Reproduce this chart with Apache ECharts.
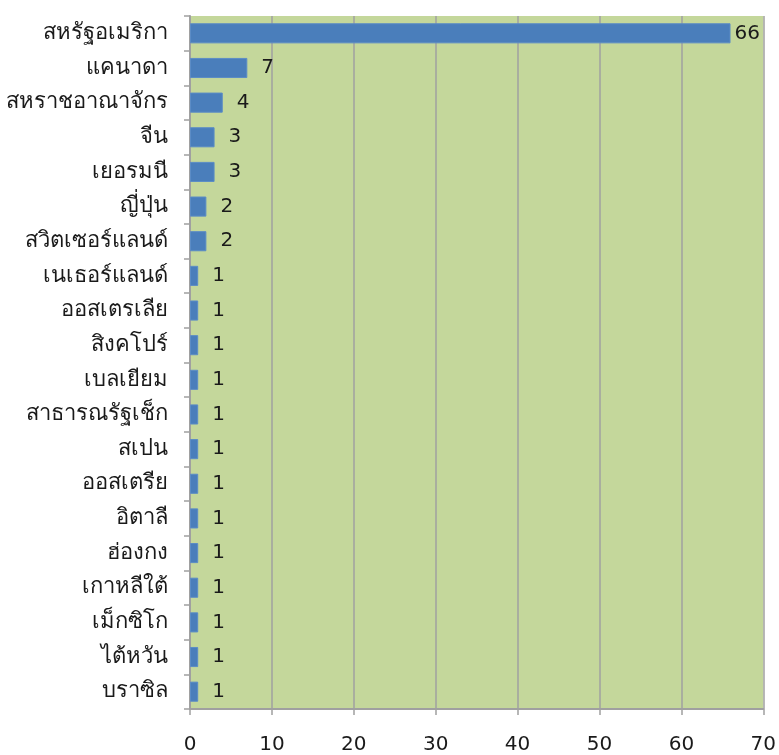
<!DOCTYPE html>
<html>
<head>
<meta charset="utf-8">
<script src="https://cdn.jsdelivr.net/npm/echarts@6/dist/echarts.min.js"></script>
<style>
  html, body { margin: 0; padding: 0; background: #fff; }
  #chart { width: 779px; height: 755px; }
</style>
</head>
<body>
<div id="chart"></div>
<script>
// ประเทศ (top to bottom as in the picture)
var countries = [
  "สหรัฐอเมริกา", "แคนาดา", "สหราชอาณาจักร", "จีน", "เยอรมนี", "ญี่ปุ่น",
  "สวิตเซอร์แลนด์", "เนเธอร์แลนด์", "ออสเตรเลีย", "สิงคโปร์", "เบลเยียม",
  "สาธารณรัฐเช็ก", "สเปน", "ออสเตรีย", "อิตาลี", "ฮ่องกง", "เกาหลีใต้",
  "เม็กซิโก", "ไต้หวัน", "บราซิล"
];
var counts = [66, 7, 4, 3, 3, 2, 2, 1, 1, 1, 1, 1, 1, 1, 1, 1, 1, 1, 1, 1];
var xTicks = [0, 10, 20, 30, 40, 50, 60, 70];

var myChart = echarts.init(document.getElementById("chart"));
var font = "Tahoma, 'DejaVu Sans', 'Noto Sans', sans-serif";
var xMax = xTicks[xTicks.length - 1];

// label hugs the bar when it would run past the plot edge
var barData = counts.map(function (v) {
  if (v > xMax - 6) return { value: v, label: { distance: 4 } };
  return v;
});

var option = {
  animation: false,
  grid: {
    left: 190, right: 14, top: 16, bottom: 45,
    show: true,
    backgroundColor: "#c4d79b",
    borderWidth: 0
  },
  xAxis: {
    type: "value",
    min: xTicks[0],
    max: xMax,
    interval: 10,
    axisLine: { show: true, lineStyle: { color: "#a0a0a0", width: 2 } },
    axisTick: { show: true, length: 6, lineStyle: { color: "#a0a0a0", width: 1.5 } },
    splitLine: { show: true, lineStyle: { color: "#a0a0a0", width: 1.5 } },
    axisLabel: { color: "#1a1a1a", fontSize: 20, fontFamily: font, margin: 26 }
  },
  yAxis: {
    type: "category",
    inverse: true,
    data: countries,
    axisLine: { show: true, lineStyle: { color: "#a0a0a0", width: 2 } },
    axisTick: { show: true, length: 6, lineStyle: { color: "#a0a0a0", width: 1.5 } },
    axisLabel: { color: "#1a1a1a", fontSize: 22, fontFamily: font, margin: 22 }
  },
  series: [
    {
      type: "bar",
      data: barData,
      barCategoryGap: "42%",
      itemStyle: { color: "#4a7ebb", borderColor: "#5b8cc6", borderWidth: 1 },
      label: {
        show: true,
        position: "right",
        distance: 14,
        color: "#1a1a1a",
        fontSize: 20,
        fontFamily: font
      }
    }
  ]
};
myChart.setOption(option);
</script>
</body>
</html>
